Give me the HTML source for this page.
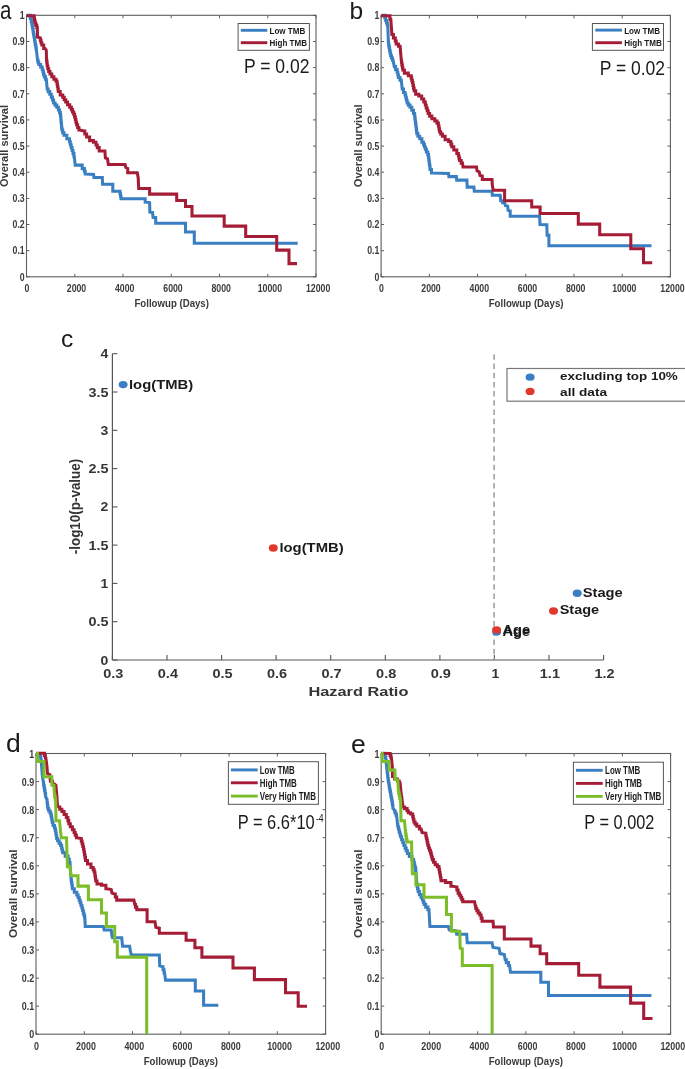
<!DOCTYPE html><html><head><meta charset="utf-8"><style>
html,body{margin:0;padding:0;background:#fff;}
svg{display:block;will-change:transform;}
text{font-family:"Liberation Sans",sans-serif;}
</style></head><body>
<svg width="685" height="1069" viewBox="0 0 685 1069">
<rect width="685" height="1069" fill="#fff"/>
<rect x="26.5" y="15.3" width="289.5" height="261.5" fill="none" stroke="#5e5e5e" stroke-width="1.1"/>
<line x1="26.5" y1="276.8" x2="26.5" y2="273.8" stroke="#5e5e5e" stroke-width="1"/>
<line x1="26.5" y1="15.3" x2="26.5" y2="18.3" stroke="#5e5e5e" stroke-width="1"/>
<text x="26.9" y="291.8" font-size="10.8" font-weight="bold" text-anchor="middle" fill="#3a3a3a" textLength="4.87" lengthAdjust="spacingAndGlyphs" >0</text>
<line x1="74.8" y1="276.8" x2="74.8" y2="273.8" stroke="#5e5e5e" stroke-width="1"/>
<line x1="74.8" y1="15.3" x2="74.8" y2="18.3" stroke="#5e5e5e" stroke-width="1"/>
<text x="76.5" y="291.8" font-size="10.8" font-weight="bold" text-anchor="middle" fill="#3a3a3a" textLength="19.46" lengthAdjust="spacingAndGlyphs" >2000</text>
<line x1="123.0" y1="276.8" x2="123.0" y2="273.8" stroke="#5e5e5e" stroke-width="1"/>
<line x1="123.0" y1="15.3" x2="123.0" y2="18.3" stroke="#5e5e5e" stroke-width="1"/>
<text x="124.7" y="291.8" font-size="10.8" font-weight="bold" text-anchor="middle" fill="#3a3a3a" textLength="19.46" lengthAdjust="spacingAndGlyphs" >4000</text>
<line x1="171.2" y1="276.8" x2="171.2" y2="273.8" stroke="#5e5e5e" stroke-width="1"/>
<line x1="171.2" y1="15.3" x2="171.2" y2="18.3" stroke="#5e5e5e" stroke-width="1"/>
<text x="173.0" y="291.8" font-size="10.8" font-weight="bold" text-anchor="middle" fill="#3a3a3a" textLength="19.46" lengthAdjust="spacingAndGlyphs" >6000</text>
<line x1="219.5" y1="276.8" x2="219.5" y2="273.8" stroke="#5e5e5e" stroke-width="1"/>
<line x1="219.5" y1="15.3" x2="219.5" y2="18.3" stroke="#5e5e5e" stroke-width="1"/>
<text x="221.2" y="291.8" font-size="10.8" font-weight="bold" text-anchor="middle" fill="#3a3a3a" textLength="19.46" lengthAdjust="spacingAndGlyphs" >8000</text>
<line x1="267.8" y1="276.8" x2="267.8" y2="273.8" stroke="#5e5e5e" stroke-width="1"/>
<line x1="267.8" y1="15.3" x2="267.8" y2="18.3" stroke="#5e5e5e" stroke-width="1"/>
<text x="269.9" y="291.8" font-size="10.8" font-weight="bold" text-anchor="middle" fill="#3a3a3a" textLength="24.33" lengthAdjust="spacingAndGlyphs" >10000</text>
<line x1="316.0" y1="276.8" x2="316.0" y2="273.8" stroke="#5e5e5e" stroke-width="1"/>
<line x1="316.0" y1="15.3" x2="316.0" y2="18.3" stroke="#5e5e5e" stroke-width="1"/>
<text x="318.1" y="291.8" font-size="10.8" font-weight="bold" text-anchor="middle" fill="#3a3a3a" textLength="24.33" lengthAdjust="spacingAndGlyphs" >12000</text>
<line x1="26.5" y1="276.8" x2="29.5" y2="276.8" stroke="#5e5e5e" stroke-width="1"/>
<line x1="316" y1="276.8" x2="313" y2="276.8" stroke="#5e5e5e" stroke-width="1"/>
<text x="24.7" y="280.5" font-size="10.8" font-weight="bold" text-anchor="end" fill="#3a3a3a" textLength="4.87" lengthAdjust="spacingAndGlyphs" >0</text>
<line x1="26.5" y1="250.7" x2="29.5" y2="250.7" stroke="#5e5e5e" stroke-width="1"/>
<line x1="316" y1="250.7" x2="313" y2="250.7" stroke="#5e5e5e" stroke-width="1"/>
<text x="24.7" y="254.3" font-size="10.8" font-weight="bold" text-anchor="end" fill="#3a3a3a" textLength="12.16" lengthAdjust="spacingAndGlyphs" >0.1</text>
<line x1="26.5" y1="224.5" x2="29.5" y2="224.5" stroke="#5e5e5e" stroke-width="1"/>
<line x1="316" y1="224.5" x2="313" y2="224.5" stroke="#5e5e5e" stroke-width="1"/>
<text x="24.7" y="228.2" font-size="10.8" font-weight="bold" text-anchor="end" fill="#3a3a3a" textLength="12.16" lengthAdjust="spacingAndGlyphs" >0.2</text>
<line x1="26.5" y1="198.4" x2="29.5" y2="198.4" stroke="#5e5e5e" stroke-width="1"/>
<line x1="316" y1="198.4" x2="313" y2="198.4" stroke="#5e5e5e" stroke-width="1"/>
<text x="24.7" y="202.1" font-size="10.8" font-weight="bold" text-anchor="end" fill="#3a3a3a" textLength="12.16" lengthAdjust="spacingAndGlyphs" >0.3</text>
<line x1="26.5" y1="172.2" x2="29.5" y2="172.2" stroke="#5e5e5e" stroke-width="1"/>
<line x1="316" y1="172.2" x2="313" y2="172.2" stroke="#5e5e5e" stroke-width="1"/>
<text x="24.7" y="175.9" font-size="10.8" font-weight="bold" text-anchor="end" fill="#3a3a3a" textLength="12.16" lengthAdjust="spacingAndGlyphs" >0.4</text>
<line x1="26.5" y1="146.1" x2="29.5" y2="146.1" stroke="#5e5e5e" stroke-width="1"/>
<line x1="316" y1="146.1" x2="313" y2="146.1" stroke="#5e5e5e" stroke-width="1"/>
<text x="24.7" y="149.8" font-size="10.8" font-weight="bold" text-anchor="end" fill="#3a3a3a" textLength="12.16" lengthAdjust="spacingAndGlyphs" >0.5</text>
<line x1="26.5" y1="119.9" x2="29.5" y2="119.9" stroke="#5e5e5e" stroke-width="1"/>
<line x1="316" y1="119.9" x2="313" y2="119.9" stroke="#5e5e5e" stroke-width="1"/>
<text x="24.7" y="123.6" font-size="10.8" font-weight="bold" text-anchor="end" fill="#3a3a3a" textLength="12.16" lengthAdjust="spacingAndGlyphs" >0.6</text>
<line x1="26.5" y1="93.8" x2="29.5" y2="93.8" stroke="#5e5e5e" stroke-width="1"/>
<line x1="316" y1="93.8" x2="313" y2="93.8" stroke="#5e5e5e" stroke-width="1"/>
<text x="24.7" y="97.5" font-size="10.8" font-weight="bold" text-anchor="end" fill="#3a3a3a" textLength="12.16" lengthAdjust="spacingAndGlyphs" >0.7</text>
<line x1="26.5" y1="67.6" x2="29.5" y2="67.6" stroke="#5e5e5e" stroke-width="1"/>
<line x1="316" y1="67.6" x2="313" y2="67.6" stroke="#5e5e5e" stroke-width="1"/>
<text x="24.7" y="71.3" font-size="10.8" font-weight="bold" text-anchor="end" fill="#3a3a3a" textLength="12.16" lengthAdjust="spacingAndGlyphs" >0.8</text>
<line x1="26.5" y1="41.5" x2="29.5" y2="41.5" stroke="#5e5e5e" stroke-width="1"/>
<line x1="316" y1="41.5" x2="313" y2="41.5" stroke="#5e5e5e" stroke-width="1"/>
<text x="24.7" y="45.2" font-size="10.8" font-weight="bold" text-anchor="end" fill="#3a3a3a" textLength="12.16" lengthAdjust="spacingAndGlyphs" >0.9</text>
<line x1="26.5" y1="15.3" x2="29.5" y2="15.3" stroke="#5e5e5e" stroke-width="1"/>
<line x1="316" y1="15.3" x2="313" y2="15.3" stroke="#5e5e5e" stroke-width="1"/>
<text x="24.7" y="19.0" font-size="10.8" font-weight="bold" text-anchor="end" fill="#3a3a3a" textLength="4.87" lengthAdjust="spacingAndGlyphs" >1</text>
<text x="171.7" y="306.8" font-size="11.6" font-weight="bold" text-anchor="middle" fill="#3a3a3a" textLength="74.5" lengthAdjust="spacingAndGlyphs" >Followup (Days)</text>
<text transform="translate(8.2,146) rotate(-90)" x="0" y="0" font-size="11.6" font-weight="bold" text-anchor="middle" fill="#3a3a3a" textLength="82" lengthAdjust="spacingAndGlyphs">Overall survival</text>
<polyline points="26.6,15.3 29.9,15.3 30.3,15.3 30.3,18.5 31.2,18.5 31.2,21.7 31.7,21.7 31.9,21.7 31.9,24.3 32.3,24.3 32.3,27.0 32.8,27.0 32.8,29.6 33.2,29.6 33.2,32.2 33.4,32.2 33.6,32.2 33.6,34.7 34.0,34.7 34.0,37.2 34.5,37.2 34.5,39.7 34.9,39.7 34.9,42.2 35.3,42.2 35.3,44.7 35.8,44.7 35.8,47.2 36.2,47.2 36.2,49.7 36.4,49.7 37.5,60.0 38.0,60.0 38.0,62.2 38.8,62.2 38.8,64.4 39.3,64.4 40.6,64.4 40.6,67.0 41.9,67.0 42.2,67.0 42.2,69.4 42.9,69.4 42.9,71.8 43.5,71.8 43.5,74.2 44.2,74.2 44.2,76.6 44.5,76.6 45.4,76.6 45.4,79.3 46.3,79.3 47.2,88.9 48.1,88.9 48.1,91.6 49.8,91.6 49.8,94.2 50.7,94.2 51.3,94.2 51.3,97.1 52.5,97.1 52.5,100.0 53.6,100.0 53.6,102.9 54.2,102.9 55.1,102.9 55.1,105.1 56.8,105.1 56.8,107.3 57.7,107.3 58.4,107.3 58.4,109.9 59.6,109.9 59.6,112.6 60.3,112.6 60.4,112.6 60.4,115.1 60.7,115.1 60.7,117.6 60.9,117.6 60.9,120.1 61.1,120.1 61.1,122.5 61.4,122.5 61.4,125.0 61.6,125.0 61.6,127.5 61.9,127.5 61.9,130.0 62.0,130.0 62.7,130.0 62.7,132.7 64.0,132.7 64.0,135.3 64.7,135.3 66.8,135.3 66.8,138.8 69.0,138.8 69.5,138.8 69.5,141.7 70.3,141.7 70.3,144.7 71.2,144.7 71.2,147.6 71.7,147.6 72.1,147.6 72.1,150.5 73.0,150.5 73.0,153.5 73.9,153.5 73.9,156.4 74.3,156.4 75.2,165.1 80.4,165.1 82.2,165.1 82.2,168.6 83.9,168.6 84.4,168.6 84.4,171.2 85.2,171.2 85.2,173.9 85.7,173.9 93.6,174.5 93.9,177.5 102.3,177.5 102.6,184.2 112.8,184.2 112.8,191.2 119.8,191.2 120.0,191.2 120.0,193.7 120.5,193.7 120.5,196.2 121.0,196.2 121.0,198.7 121.2,198.7 145.2,198.7 145.2,202.2 149.6,202.6 149.9,212.2 152.5,212.5 153.1,217.5 155.7,217.5 155.7,223.2 185.5,223.2 185.5,232.0 194.3,232.0 194.3,243.2 297.7,243.2" fill="none" stroke="#3a7fc1" stroke-width="3.05" stroke-linejoin="miter" stroke-linecap="butt"/>
<polyline points="26.6,15.8 33.8,15.8 34.0,15.8 34.0,18.1 34.5,18.1 34.5,20.5 35.0,20.5 35.0,22.8 35.2,22.8 35.7,22.8 35.7,25.1 36.8,25.1 36.8,27.5 37.3,27.5 37.5,36.9 39.9,38.0 40.3,38.0 40.3,40.3 41.0,40.3 41.0,42.7 41.8,42.7 41.8,45.0 42.2,45.0 43.7,45.0 43.7,48.5 45.1,48.5 46.3,50.3 46.5,60.0 46.8,60.0 46.8,62.9 47.2,62.9 47.2,65.9 47.8,65.9 47.8,68.8 48.0,68.8 48.7,68.8 48.7,71.4 50.0,71.4 50.0,74.0 50.7,74.0 51.8,74.0 51.8,76.7 53.9,76.7 53.9,79.3 55.0,79.3 55.9,79.3 55.9,81.0 56.8,81.0 57.0,81.0 57.0,83.6 57.4,83.6 57.4,86.2 57.9,86.2 57.9,88.9 58.3,88.9 58.3,91.5 58.5,91.5 60.2,91.5 60.2,95.0 62.0,95.0 62.7,95.0 62.7,97.3 64.2,97.3 64.2,99.7 65.7,99.7 65.7,102.0 66.4,102.0 67.5,102.0 67.5,104.7 69.7,104.7 69.7,107.3 70.8,107.3 71.4,107.3 71.4,109.6 72.5,109.6 72.5,112.0 73.7,112.0 73.7,114.3 74.3,114.3 74.6,114.3 74.6,116.9 75.3,116.9 75.3,119.5 75.9,119.5 75.9,122.2 76.6,122.2 76.6,124.8 76.9,124.8 77.6,124.8 77.6,127.4 78.9,127.4 78.9,130.0 79.6,130.0 84.0,131.0 84.8,131.0 84.8,134.0 86.6,134.0 86.6,137.0 87.4,137.0 89.6,137.0 89.6,140.6 91.8,140.6 93.5,140.6 93.5,142.3 95.3,142.3 96.0,142.3 96.0,144.9 97.3,144.9 97.3,147.6 98.0,147.6 99.2,147.6 99.2,150.9 100.5,150.9 104.9,150.9 105.4,157.9 107.5,158.8 108.4,164.4 125.0,164.4 125.9,167.5 127.7,168.4 127.7,172.8 137.3,172.8 138.2,178.0 138.7,188.5 149.6,188.5 149.6,194.1 176.7,194.1 176.7,200.5 185.5,200.5 185.5,206.4 192.0,206.4 192.0,216.0 224.2,216.0 224.2,226.1 245.7,226.1 245.7,236.4 276.7,236.4 276.7,250.1 289.0,250.1 289.0,263.6 297.0,263.6" fill="none" stroke="#a51c36" stroke-width="3.05" stroke-linejoin="miter" stroke-linecap="butt"/>
<rect x="238.1" y="23.5" width="71.29999999999998" height="26.799999999999997" fill="#fff" stroke="#555" stroke-width="1"/>
<line x1="240.8" y1="30.3" x2="267.3" y2="30.3" stroke="#3a7fc1" stroke-width="2.9"/>
<text x="269.5" y="34.0" font-size="9.3" font-weight="bold" text-anchor="start" fill="#1a1a1a" textLength="35.8" lengthAdjust="spacingAndGlyphs" >Low TMB</text>
<line x1="240.8" y1="42.7" x2="267.3" y2="42.7" stroke="#a51c36" stroke-width="2.9"/>
<text x="269.5" y="46.400000000000006" font-size="9.3" font-weight="bold" text-anchor="start" fill="#1a1a1a" textLength="37.5" lengthAdjust="spacingAndGlyphs" >High TMB</text>
<text x="244" y="72.7" font-size="20.6" fill="#1a1a1a" textLength="65.4" lengthAdjust="spacingAndGlyphs">P = 0.02</text>
<text x="0" y="18.8" font-size="25" fill="#1a1a1a" transform="scale(0.82,1)">a</text>
<rect x="381.1" y="15.4" width="289.29999999999995" height="261.40000000000003" fill="none" stroke="#5e5e5e" stroke-width="1.1"/>
<line x1="381.1" y1="276.8" x2="381.1" y2="273.8" stroke="#5e5e5e" stroke-width="1"/>
<line x1="381.1" y1="15.4" x2="381.1" y2="18.4" stroke="#5e5e5e" stroke-width="1"/>
<text x="381.5" y="291.8" font-size="10.8" font-weight="bold" text-anchor="middle" fill="#3a3a3a" textLength="4.87" lengthAdjust="spacingAndGlyphs" >0</text>
<line x1="429.3" y1="276.8" x2="429.3" y2="273.8" stroke="#5e5e5e" stroke-width="1"/>
<line x1="429.3" y1="15.4" x2="429.3" y2="18.4" stroke="#5e5e5e" stroke-width="1"/>
<text x="431.0" y="291.8" font-size="10.8" font-weight="bold" text-anchor="middle" fill="#3a3a3a" textLength="19.46" lengthAdjust="spacingAndGlyphs" >2000</text>
<line x1="477.5" y1="276.8" x2="477.5" y2="273.8" stroke="#5e5e5e" stroke-width="1"/>
<line x1="477.5" y1="15.4" x2="477.5" y2="18.4" stroke="#5e5e5e" stroke-width="1"/>
<text x="479.3" y="291.8" font-size="10.8" font-weight="bold" text-anchor="middle" fill="#3a3a3a" textLength="19.46" lengthAdjust="spacingAndGlyphs" >4000</text>
<line x1="525.8" y1="276.8" x2="525.8" y2="273.8" stroke="#5e5e5e" stroke-width="1"/>
<line x1="525.8" y1="15.4" x2="525.8" y2="18.4" stroke="#5e5e5e" stroke-width="1"/>
<text x="527.5" y="291.8" font-size="10.8" font-weight="bold" text-anchor="middle" fill="#3a3a3a" textLength="19.46" lengthAdjust="spacingAndGlyphs" >6000</text>
<line x1="574.0" y1="276.8" x2="574.0" y2="273.8" stroke="#5e5e5e" stroke-width="1"/>
<line x1="574.0" y1="15.4" x2="574.0" y2="18.4" stroke="#5e5e5e" stroke-width="1"/>
<text x="575.7" y="291.8" font-size="10.8" font-weight="bold" text-anchor="middle" fill="#3a3a3a" textLength="19.46" lengthAdjust="spacingAndGlyphs" >8000</text>
<line x1="622.2" y1="276.8" x2="622.2" y2="273.8" stroke="#5e5e5e" stroke-width="1"/>
<line x1="622.2" y1="15.4" x2="622.2" y2="18.4" stroke="#5e5e5e" stroke-width="1"/>
<text x="624.3" y="291.8" font-size="10.8" font-weight="bold" text-anchor="middle" fill="#3a3a3a" textLength="24.33" lengthAdjust="spacingAndGlyphs" >10000</text>
<line x1="670.4" y1="276.8" x2="670.4" y2="273.8" stroke="#5e5e5e" stroke-width="1"/>
<line x1="670.4" y1="15.4" x2="670.4" y2="18.4" stroke="#5e5e5e" stroke-width="1"/>
<text x="672.5" y="291.8" font-size="10.8" font-weight="bold" text-anchor="middle" fill="#3a3a3a" textLength="24.33" lengthAdjust="spacingAndGlyphs" >12000</text>
<line x1="381.1" y1="276.8" x2="384.1" y2="276.8" stroke="#5e5e5e" stroke-width="1"/>
<line x1="670.4" y1="276.8" x2="667.4" y2="276.8" stroke="#5e5e5e" stroke-width="1"/>
<text x="379.3" y="280.5" font-size="10.8" font-weight="bold" text-anchor="end" fill="#3a3a3a" textLength="4.87" lengthAdjust="spacingAndGlyphs" >0</text>
<line x1="381.1" y1="250.7" x2="384.1" y2="250.7" stroke="#5e5e5e" stroke-width="1"/>
<line x1="670.4" y1="250.7" x2="667.4" y2="250.7" stroke="#5e5e5e" stroke-width="1"/>
<text x="379.3" y="254.4" font-size="10.8" font-weight="bold" text-anchor="end" fill="#3a3a3a" textLength="12.16" lengthAdjust="spacingAndGlyphs" >0.1</text>
<line x1="381.1" y1="224.5" x2="384.1" y2="224.5" stroke="#5e5e5e" stroke-width="1"/>
<line x1="670.4" y1="224.5" x2="667.4" y2="224.5" stroke="#5e5e5e" stroke-width="1"/>
<text x="379.3" y="228.2" font-size="10.8" font-weight="bold" text-anchor="end" fill="#3a3a3a" textLength="12.16" lengthAdjust="spacingAndGlyphs" >0.2</text>
<line x1="381.1" y1="198.4" x2="384.1" y2="198.4" stroke="#5e5e5e" stroke-width="1"/>
<line x1="670.4" y1="198.4" x2="667.4" y2="198.4" stroke="#5e5e5e" stroke-width="1"/>
<text x="379.3" y="202.1" font-size="10.8" font-weight="bold" text-anchor="end" fill="#3a3a3a" textLength="12.16" lengthAdjust="spacingAndGlyphs" >0.3</text>
<line x1="381.1" y1="172.2" x2="384.1" y2="172.2" stroke="#5e5e5e" stroke-width="1"/>
<line x1="670.4" y1="172.2" x2="667.4" y2="172.2" stroke="#5e5e5e" stroke-width="1"/>
<text x="379.3" y="175.9" font-size="10.8" font-weight="bold" text-anchor="end" fill="#3a3a3a" textLength="12.16" lengthAdjust="spacingAndGlyphs" >0.4</text>
<line x1="381.1" y1="146.1" x2="384.1" y2="146.1" stroke="#5e5e5e" stroke-width="1"/>
<line x1="670.4" y1="146.1" x2="667.4" y2="146.1" stroke="#5e5e5e" stroke-width="1"/>
<text x="379.3" y="149.8" font-size="10.8" font-weight="bold" text-anchor="end" fill="#3a3a3a" textLength="12.16" lengthAdjust="spacingAndGlyphs" >0.5</text>
<line x1="381.1" y1="120.0" x2="384.1" y2="120.0" stroke="#5e5e5e" stroke-width="1"/>
<line x1="670.4" y1="120.0" x2="667.4" y2="120.0" stroke="#5e5e5e" stroke-width="1"/>
<text x="379.3" y="123.7" font-size="10.8" font-weight="bold" text-anchor="end" fill="#3a3a3a" textLength="12.16" lengthAdjust="spacingAndGlyphs" >0.6</text>
<line x1="381.1" y1="93.8" x2="384.1" y2="93.8" stroke="#5e5e5e" stroke-width="1"/>
<line x1="670.4" y1="93.8" x2="667.4" y2="93.8" stroke="#5e5e5e" stroke-width="1"/>
<text x="379.3" y="97.5" font-size="10.8" font-weight="bold" text-anchor="end" fill="#3a3a3a" textLength="12.16" lengthAdjust="spacingAndGlyphs" >0.7</text>
<line x1="381.1" y1="67.7" x2="384.1" y2="67.7" stroke="#5e5e5e" stroke-width="1"/>
<line x1="670.4" y1="67.7" x2="667.4" y2="67.7" stroke="#5e5e5e" stroke-width="1"/>
<text x="379.3" y="71.4" font-size="10.8" font-weight="bold" text-anchor="end" fill="#3a3a3a" textLength="12.16" lengthAdjust="spacingAndGlyphs" >0.8</text>
<line x1="381.1" y1="41.5" x2="384.1" y2="41.5" stroke="#5e5e5e" stroke-width="1"/>
<line x1="670.4" y1="41.5" x2="667.4" y2="41.5" stroke="#5e5e5e" stroke-width="1"/>
<text x="379.3" y="45.2" font-size="10.8" font-weight="bold" text-anchor="end" fill="#3a3a3a" textLength="12.16" lengthAdjust="spacingAndGlyphs" >0.9</text>
<line x1="381.1" y1="15.4" x2="384.1" y2="15.4" stroke="#5e5e5e" stroke-width="1"/>
<line x1="670.4" y1="15.4" x2="667.4" y2="15.4" stroke="#5e5e5e" stroke-width="1"/>
<text x="379.3" y="19.1" font-size="10.8" font-weight="bold" text-anchor="end" fill="#3a3a3a" textLength="4.87" lengthAdjust="spacingAndGlyphs" >1</text>
<text x="526.1" y="306.8" font-size="11.6" font-weight="bold" text-anchor="middle" fill="#3a3a3a" textLength="74.8" lengthAdjust="spacingAndGlyphs" >Followup (Days)</text>
<text transform="translate(362.2,145.8) rotate(-90)" x="0" y="0" font-size="11.6" font-weight="bold" text-anchor="middle" fill="#3a3a3a" textLength="82.8" lengthAdjust="spacingAndGlyphs">Overall survival</text>
<polyline points="381.2,15.3 384.3,15.3 384.8,15.3 384.8,17.9 385.7,17.9 385.7,20.5 386.1,20.5 386.5,20.5 386.5,22.9 387.4,22.9 387.4,25.2 387.8,25.2 388.4,42.7 388.6,42.7 388.6,45.3 389.1,45.3 389.1,47.8 389.6,47.8 389.6,50.4 390.1,50.4 390.1,52.9 390.6,52.9 390.6,55.5 390.8,55.5 391.4,55.5 391.4,57.9 392.5,57.9 392.5,60.2 393.1,60.2 394.3,66.6 395.6,66.6 395.6,69.6 396.9,69.6 397.2,69.6 397.2,72.2 397.8,72.2 397.8,74.9 398.4,74.9 398.4,77.5 398.7,77.5 400.0,77.5 400.0,80.1 401.3,80.1 402.2,88.9 403.5,88.9 403.5,92.4 404.8,92.4 405.1,92.4 405.1,95.0 405.8,95.0 405.8,97.7 406.4,97.7 406.4,100.3 407.1,100.3 407.1,102.9 407.4,102.9 408.3,102.9 408.3,105.1 410.0,105.1 410.0,107.3 410.9,107.3 411.8,107.3 411.8,110.3 413.5,110.3 413.5,113.4 414.4,113.4 414.6,113.4 414.6,115.9 414.9,115.9 414.9,118.5 415.2,118.5 415.2,121.0 415.5,121.0 415.5,123.5 415.9,123.5 415.9,126.0 416.2,126.0 416.2,128.6 416.5,128.6 416.5,131.1 416.8,131.1 416.8,133.6 417.0,133.6 417.9,133.6 417.9,136.2 419.7,136.2 419.7,138.8 420.6,138.8 421.9,138.8 421.9,142.3 423.2,142.3 423.6,142.3 423.6,144.6 424.5,144.6 424.5,147.0 425.4,147.0 425.4,149.3 425.8,149.3 426.4,149.3 426.4,151.9 427.8,151.9 427.8,154.6 428.4,154.6 428.5,154.6 428.5,157.1 428.8,157.1 428.8,159.6 429.1,159.6 429.1,162.1 429.4,162.1 429.4,164.5 429.8,164.5 429.8,167.0 430.1,167.0 430.1,169.5 430.2,169.5 431.5,169.5 431.5,173.0 432.8,173.0 448.6,173.5 448.9,176.6 456.4,176.6 456.7,180.1 466.9,180.1 467.2,187.1 473.9,187.1 474.3,191.2 492.0,191.2 492.3,195.2 500.2,195.2 500.7,200.8 502.6,200.8 502.6,202.6 504.6,202.6 505.4,205.7 507.7,206.1 508.1,210.4 510.2,211.0 510.2,216.2 539.6,216.2 540.0,224.5 546.8,224.7 547.1,235.2 548.9,235.2 548.9,245.7 651.5,245.7" fill="none" stroke="#3a7fc1" stroke-width="3.05" stroke-linejoin="miter" stroke-linecap="butt"/>
<polyline points="381.2,15.8 389.0,15.8 389.9,15.8 389.9,19.3 390.8,19.3 391.9,34.5 393.4,34.5 393.4,38.0 394.9,38.0 395.3,38.0 395.3,41.0 396.2,41.0 396.2,43.9 396.6,43.9 398.4,43.9 398.4,46.2 400.1,46.2 401.3,60.2 401.5,60.2 401.5,62.7 401.9,62.7 401.9,65.1 402.4,65.1 402.4,67.5 402.8,67.5 402.8,70.0 403.0,70.0 404.4,70.0 404.4,73.1 405.7,73.1 408.3,73.1 408.3,75.8 410.9,75.8 411.2,75.8 411.2,78.1 411.8,78.1 411.8,80.5 412.4,80.5 412.4,82.8 412.7,82.8 413.0,82.8 413.0,85.4 413.5,85.4 413.5,88.1 414.1,88.1 414.1,90.7 414.4,90.7 415.7,90.7 415.7,94.2 417.0,94.2 418.8,94.2 418.8,95.9 420.6,95.9 421.7,95.9 421.7,99.0 423.8,99.0 423.8,102.0 424.9,102.0 425.3,102.0 425.3,104.9 426.2,104.9 426.2,107.9 427.2,107.9 427.2,110.8 427.6,110.8 428.2,110.8 428.2,113.4 429.6,113.4 429.6,116.1 430.2,116.1 431.9,116.1 431.9,118.7 433.7,118.7 434.8,118.7 434.8,120.9 437.0,120.9 437.0,123.1 438.1,123.1 438.4,123.1 438.4,126.0 439.0,126.0 439.0,128.9 439.5,128.9 439.5,131.8 439.8,131.8 440.7,131.8 440.7,134.0 442.4,134.0 442.4,136.2 443.3,136.2 445.1,136.2 445.1,139.7 446.8,139.7 448.6,139.7 448.6,141.5 450.3,141.5 450.8,141.5 450.8,144.1 451.7,144.1 451.7,146.7 452.1,146.7 453.8,146.7 453.8,150.0 455.5,150.0 456.8,150.0 456.8,153.5 458.1,153.5 458.4,153.5 458.4,155.8 459.0,155.8 459.0,158.2 459.6,158.2 459.6,160.5 459.9,160.5 461.2,160.5 461.2,163.1 462.5,163.1 463.0,167.0 476.5,167.0 477.1,171.0 479.2,171.9 480.0,175.4 482.3,175.9 482.3,179.4 492.0,179.4 492.3,185.0 493.2,190.3 504.6,190.3 504.6,200.8 531.7,200.8 531.7,206.9 540.1,206.9 540.1,213.4 578.3,213.4 578.3,224.1 599.7,224.1 599.7,234.7 630.8,234.7 630.8,248.7 643.5,248.7 643.5,262.7 652.2,262.7" fill="none" stroke="#a51c36" stroke-width="3.05" stroke-linejoin="miter" stroke-linecap="butt"/>
<rect x="592.4" y="23.5" width="71.10000000000002" height="26.799999999999997" fill="#fff" stroke="#555" stroke-width="1"/>
<line x1="595.3" y1="30.1" x2="621.9" y2="30.1" stroke="#3a7fc1" stroke-width="2.9"/>
<text x="624.2" y="33.800000000000004" font-size="9.3" font-weight="bold" text-anchor="start" fill="#1a1a1a" textLength="35.8" lengthAdjust="spacingAndGlyphs" >Low TMB</text>
<line x1="595.3" y1="42.7" x2="621.9" y2="42.7" stroke="#a51c36" stroke-width="2.9"/>
<text x="624.2" y="46.400000000000006" font-size="9.3" font-weight="bold" text-anchor="start" fill="#1a1a1a" textLength="37.6" lengthAdjust="spacingAndGlyphs" >High TMB</text>
<text x="599.7" y="74.9" font-size="20.6" fill="#1a1a1a" textLength="65.4" lengthAdjust="spacingAndGlyphs">P = 0.02</text>
<text x="349.5" y="18.8" font-size="24.5" fill="#1a1a1a">b</text>
<rect x="36" y="753.5" width="289.6" height="280.70000000000005" fill="none" stroke="#5e5e5e" stroke-width="1.1"/>
<line x1="36.0" y1="1034.2" x2="36.0" y2="1031.2" stroke="#5e5e5e" stroke-width="1"/>
<line x1="36.0" y1="753.5" x2="36.0" y2="756.5" stroke="#5e5e5e" stroke-width="1"/>
<text x="36.4" y="1049.7" font-size="11.5" font-weight="bold" text-anchor="middle" fill="#3a3a3a" textLength="4.95" lengthAdjust="spacingAndGlyphs" >0</text>
<line x1="84.3" y1="1034.2" x2="84.3" y2="1031.2" stroke="#5e5e5e" stroke-width="1"/>
<line x1="84.3" y1="753.5" x2="84.3" y2="756.5" stroke="#5e5e5e" stroke-width="1"/>
<text x="86.0" y="1049.7" font-size="11.5" font-weight="bold" text-anchor="middle" fill="#3a3a3a" textLength="19.79" lengthAdjust="spacingAndGlyphs" >2000</text>
<line x1="132.5" y1="1034.2" x2="132.5" y2="1031.2" stroke="#5e5e5e" stroke-width="1"/>
<line x1="132.5" y1="753.5" x2="132.5" y2="756.5" stroke="#5e5e5e" stroke-width="1"/>
<text x="134.3" y="1049.7" font-size="11.5" font-weight="bold" text-anchor="middle" fill="#3a3a3a" textLength="19.79" lengthAdjust="spacingAndGlyphs" >4000</text>
<line x1="180.8" y1="1034.2" x2="180.8" y2="1031.2" stroke="#5e5e5e" stroke-width="1"/>
<line x1="180.8" y1="753.5" x2="180.8" y2="756.5" stroke="#5e5e5e" stroke-width="1"/>
<text x="182.5" y="1049.7" font-size="11.5" font-weight="bold" text-anchor="middle" fill="#3a3a3a" textLength="19.79" lengthAdjust="spacingAndGlyphs" >6000</text>
<line x1="229.1" y1="1034.2" x2="229.1" y2="1031.2" stroke="#5e5e5e" stroke-width="1"/>
<line x1="229.1" y1="753.5" x2="229.1" y2="756.5" stroke="#5e5e5e" stroke-width="1"/>
<text x="230.8" y="1049.7" font-size="11.5" font-weight="bold" text-anchor="middle" fill="#3a3a3a" textLength="19.79" lengthAdjust="spacingAndGlyphs" >8000</text>
<line x1="277.3" y1="1034.2" x2="277.3" y2="1031.2" stroke="#5e5e5e" stroke-width="1"/>
<line x1="277.3" y1="753.5" x2="277.3" y2="756.5" stroke="#5e5e5e" stroke-width="1"/>
<text x="279.5" y="1049.7" font-size="11.5" font-weight="bold" text-anchor="middle" fill="#3a3a3a" textLength="24.74" lengthAdjust="spacingAndGlyphs" >10000</text>
<line x1="325.6" y1="1034.2" x2="325.6" y2="1031.2" stroke="#5e5e5e" stroke-width="1"/>
<line x1="325.6" y1="753.5" x2="325.6" y2="756.5" stroke="#5e5e5e" stroke-width="1"/>
<text x="327.8" y="1049.7" font-size="11.5" font-weight="bold" text-anchor="middle" fill="#3a3a3a" textLength="24.74" lengthAdjust="spacingAndGlyphs" >12000</text>
<line x1="36" y1="1034.2" x2="39" y2="1034.2" stroke="#5e5e5e" stroke-width="1"/>
<line x1="325.6" y1="1034.2" x2="322.6" y2="1034.2" stroke="#5e5e5e" stroke-width="1"/>
<text x="34.2" y="1038.3" font-size="11.5" font-weight="bold" text-anchor="end" fill="#3a3a3a" textLength="4.95" lengthAdjust="spacingAndGlyphs" >0</text>
<line x1="36" y1="1006.1" x2="39" y2="1006.1" stroke="#5e5e5e" stroke-width="1"/>
<line x1="325.6" y1="1006.1" x2="322.6" y2="1006.1" stroke="#5e5e5e" stroke-width="1"/>
<text x="34.2" y="1010.2" font-size="11.5" font-weight="bold" text-anchor="end" fill="#3a3a3a" textLength="12.37" lengthAdjust="spacingAndGlyphs" >0.1</text>
<line x1="36" y1="978.1" x2="39" y2="978.1" stroke="#5e5e5e" stroke-width="1"/>
<line x1="325.6" y1="978.1" x2="322.6" y2="978.1" stroke="#5e5e5e" stroke-width="1"/>
<text x="34.2" y="982.2" font-size="11.5" font-weight="bold" text-anchor="end" fill="#3a3a3a" textLength="12.37" lengthAdjust="spacingAndGlyphs" >0.2</text>
<line x1="36" y1="950.0" x2="39" y2="950.0" stroke="#5e5e5e" stroke-width="1"/>
<line x1="325.6" y1="950.0" x2="322.6" y2="950.0" stroke="#5e5e5e" stroke-width="1"/>
<text x="34.2" y="954.1" font-size="11.5" font-weight="bold" text-anchor="end" fill="#3a3a3a" textLength="12.37" lengthAdjust="spacingAndGlyphs" >0.3</text>
<line x1="36" y1="921.9" x2="39" y2="921.9" stroke="#5e5e5e" stroke-width="1"/>
<line x1="325.6" y1="921.9" x2="322.6" y2="921.9" stroke="#5e5e5e" stroke-width="1"/>
<text x="34.2" y="926.0" font-size="11.5" font-weight="bold" text-anchor="end" fill="#3a3a3a" textLength="12.37" lengthAdjust="spacingAndGlyphs" >0.4</text>
<line x1="36" y1="893.9" x2="39" y2="893.9" stroke="#5e5e5e" stroke-width="1"/>
<line x1="325.6" y1="893.9" x2="322.6" y2="893.9" stroke="#5e5e5e" stroke-width="1"/>
<text x="34.2" y="898.0" font-size="11.5" font-weight="bold" text-anchor="end" fill="#3a3a3a" textLength="12.37" lengthAdjust="spacingAndGlyphs" >0.5</text>
<line x1="36" y1="865.8" x2="39" y2="865.8" stroke="#5e5e5e" stroke-width="1"/>
<line x1="325.6" y1="865.8" x2="322.6" y2="865.8" stroke="#5e5e5e" stroke-width="1"/>
<text x="34.2" y="869.9" font-size="11.5" font-weight="bold" text-anchor="end" fill="#3a3a3a" textLength="12.37" lengthAdjust="spacingAndGlyphs" >0.6</text>
<line x1="36" y1="837.7" x2="39" y2="837.7" stroke="#5e5e5e" stroke-width="1"/>
<line x1="325.6" y1="837.7" x2="322.6" y2="837.7" stroke="#5e5e5e" stroke-width="1"/>
<text x="34.2" y="841.8" font-size="11.5" font-weight="bold" text-anchor="end" fill="#3a3a3a" textLength="12.37" lengthAdjust="spacingAndGlyphs" >0.7</text>
<line x1="36" y1="809.6" x2="39" y2="809.6" stroke="#5e5e5e" stroke-width="1"/>
<line x1="325.6" y1="809.6" x2="322.6" y2="809.6" stroke="#5e5e5e" stroke-width="1"/>
<text x="34.2" y="813.7" font-size="11.5" font-weight="bold" text-anchor="end" fill="#3a3a3a" textLength="12.37" lengthAdjust="spacingAndGlyphs" >0.8</text>
<line x1="36" y1="781.6" x2="39" y2="781.6" stroke="#5e5e5e" stroke-width="1"/>
<line x1="325.6" y1="781.6" x2="322.6" y2="781.6" stroke="#5e5e5e" stroke-width="1"/>
<text x="34.2" y="785.7" font-size="11.5" font-weight="bold" text-anchor="end" fill="#3a3a3a" textLength="12.37" lengthAdjust="spacingAndGlyphs" >0.9</text>
<line x1="36" y1="753.5" x2="39" y2="753.5" stroke="#5e5e5e" stroke-width="1"/>
<line x1="325.6" y1="753.5" x2="322.6" y2="753.5" stroke="#5e5e5e" stroke-width="1"/>
<text x="34.2" y="757.6" font-size="11.5" font-weight="bold" text-anchor="end" fill="#3a3a3a" textLength="4.95" lengthAdjust="spacingAndGlyphs" >1</text>
<text x="180.9" y="1065" font-size="11.2" font-weight="bold" text-anchor="middle" fill="#3a3a3a" textLength="74.4" lengthAdjust="spacingAndGlyphs" >Followup (Days)</text>
<text transform="translate(17.2,893.8) rotate(-90)" x="0" y="0" font-size="11.2" font-weight="bold" text-anchor="middle" fill="#3a3a3a" textLength="88.5" lengthAdjust="spacingAndGlyphs">Overall survival</text>
<polyline points="36.0,753.5 39.9,754.3 40.2,754.3 40.2,756.6 40.8,756.6 40.8,759.0 41.1,759.0 42.3,775.4 43.4,782.4 43.6,782.4 43.6,785.2 44.1,785.2 44.1,788.0 44.6,788.0 44.6,790.8 45.1,790.8 45.1,793.6 45.6,793.6 45.6,796.4 45.8,796.4 46.9,800.0 47.1,800.0 47.1,802.9 47.5,802.9 47.5,805.9 47.9,805.9 47.9,808.8 48.1,808.8 48.8,808.8 48.8,811.0 50.1,811.0 50.1,813.1 50.8,813.1 51.0,813.1 51.0,815.5 51.4,815.5 51.4,818.0 51.9,818.0 51.9,820.4 52.3,820.4 52.3,822.8 52.5,822.8 53.1,822.8 53.1,825.4 54.5,825.4 54.5,828.0 55.1,828.0 55.3,828.0 55.3,830.6 55.8,830.6 55.8,833.2 56.2,833.2 56.2,835.9 56.7,835.9 56.7,838.5 56.9,838.5 57.6,838.5 57.6,840.8 59.1,840.8 59.1,843.2 60.6,843.2 60.6,845.5 61.3,845.5 61.6,845.5 61.6,847.9 62.1,847.9 62.1,850.2 62.7,850.2 62.7,852.6 63.0,852.6 65.2,852.6 65.2,856.1 67.4,856.1 68.1,856.1 68.1,859.2 69.3,859.2 69.3,862.2 70.0,862.2 70.9,877.1 71.1,877.1 71.1,880.0 71.5,880.0 71.5,883.0 72.0,883.0 72.0,885.9 72.4,885.9 72.4,888.8 72.6,888.8 74.3,888.8 74.3,892.3 76.1,892.3 76.8,892.3 76.8,894.9 78.1,894.9 78.1,897.5 78.8,897.5 79.2,897.5 79.2,900.1 80.1,900.1 80.1,902.8 81.0,902.8 81.0,905.4 81.9,905.4 81.9,908.0 82.3,908.0 82.6,908.0 82.6,910.4 83.3,910.4 83.3,912.9 83.9,912.9 83.9,915.3 84.6,915.3 84.6,917.7 84.9,917.7 85.2,926.4 103.3,926.4 104.2,929.9 111.2,929.9 112.0,936.1 112.7,936.1 112.7,937.8 113.4,937.8 121.7,937.8 122.6,946.2 129.6,946.2 130.4,951.0 131.3,955.0 159.3,955.0 159.7,965.8 162.5,966.7 163.0,966.7 163.0,969.8 164.1,969.8 164.1,972.9 164.6,972.9 165.5,980.1 195.3,980.1 195.3,991.0 203.6,991.0 203.6,1005.2 218.3,1005.2" fill="none" stroke="#3a7fc1" stroke-width="3.05" stroke-linejoin="miter" stroke-linecap="butt"/>
<polyline points="36.0,753.2 44.0,753.2 44.5,753.2 44.5,755.5 45.3,755.5 45.3,757.8 45.8,757.8 46.9,766.0 47.5,773.6 49.9,774.8 50.4,781.2 52.5,781.2 52.5,784.1 54.5,784.1 55.9,785.3 56.9,796.4 57.5,806.0 58.7,807.0 59.8,807.0 59.8,809.2 61.9,809.2 61.9,811.4 63.0,811.4 64.1,811.4 64.1,814.5 66.3,814.5 66.3,817.5 67.4,817.5 67.9,817.5 67.9,820.6 68.8,820.6 68.8,823.7 69.2,823.7 70.3,823.7 70.3,826.8 72.4,826.8 72.4,829.8 73.5,829.8 74.1,829.8 74.1,832.4 75.2,832.4 75.2,835.1 76.4,835.1 76.4,837.7 77.0,837.7 80.9,838.5 81.3,838.5 81.3,841.1 82.1,841.1 82.1,843.8 82.8,843.8 82.8,846.4 83.2,846.4 83.5,846.4 83.5,849.2 84.0,849.2 84.0,852.0 84.5,852.0 84.5,854.8 85.0,854.8 85.0,857.6 85.5,857.6 85.5,860.4 85.8,860.4 87.5,860.4 87.5,863.9 89.3,863.9 91.0,863.9 91.0,867.4 92.8,867.4 93.2,867.4 93.2,869.6 94.1,869.6 94.1,871.8 94.6,871.8 94.8,871.8 94.8,874.1 95.1,874.1 95.1,876.4 95.5,876.4 95.5,878.7 95.8,878.7 95.8,881.0 96.0,881.0 97.0,881.0 97.0,884.0 98.0,884.0 101.5,884.0 101.5,885.3 105.0,885.3 105.9,885.3 105.9,888.8 106.8,888.8 111.2,889.6 112.0,893.1 114.7,894.0 115.3,894.0 115.3,897.0 116.7,897.0 116.7,900.1 117.3,900.1 133.9,900.1 134.8,904.5 135.5,904.5 135.5,907.1 136.8,907.1 136.8,909.8 137.4,909.8 147.1,909.8 147.1,921.7 155.0,921.7 155.8,927.3 159.3,928.2 159.3,933.2 186.1,933.2 186.1,940.3 194.9,940.3 194.9,947.7 201.9,947.7 201.9,957.1 233.0,957.1 233.0,968.0 254.4,968.0 254.4,979.6 285.5,979.6 285.5,992.8 298.2,992.8 298.2,1006.3 307.0,1006.3" fill="none" stroke="#a51c36" stroke-width="3.05" stroke-linejoin="miter" stroke-linecap="butt"/>
<polyline points="36.0,753.5 37.5,753.5 37.5,761.4 44.0,761.4 44.0,776.8 51.8,776.8 51.9,785.3 53.9,785.3 54.5,794.6 54.8,794.6 54.8,797.3 55.4,797.3 55.4,800.0 55.7,800.0 56.0,820.7 59.5,820.7 60.4,829.8 61.3,837.7 66.5,837.7 67.4,866.6 70.0,866.6 70.9,875.7 78.0,875.7 78.0,886.1 88.4,886.1 88.4,899.7 101.5,899.7 101.5,913.0 106.4,913.0 106.4,926.4 114.7,926.4 114.7,941.7 117.3,941.7 117.3,957.1 146.7,957.1 146.7,1034.0" fill="none" stroke="#7cbd2a" stroke-width="3.05" stroke-linejoin="miter" stroke-linecap="butt"/>
<rect x="228.4" y="761.7" width="89.99999999999997" height="42.59999999999991" fill="#fff" stroke="#555" stroke-width="1"/>
<line x1="230.9" y1="769.9" x2="257.7" y2="769.9" stroke="#3a7fc1" stroke-width="2.9"/>
<text x="259.8" y="773.6" font-size="10" font-weight="bold" text-anchor="start" fill="#1a1a1a" textLength="34.9" lengthAdjust="spacingAndGlyphs" >Low TMB</text>
<line x1="230.9" y1="782.8" x2="257.7" y2="782.8" stroke="#a51c36" stroke-width="2.9"/>
<text x="259.8" y="786.5" font-size="10" font-weight="bold" text-anchor="start" fill="#1a1a1a" textLength="37" lengthAdjust="spacingAndGlyphs" >High TMB</text>
<line x1="230.9" y1="796.1" x2="257.7" y2="796.1" stroke="#7cbd2a" stroke-width="2.9"/>
<text x="259.8" y="799.8000000000001" font-size="10" font-weight="bold" text-anchor="start" fill="#1a1a1a" textLength="56.2" lengthAdjust="spacingAndGlyphs" >Very High TMB</text>
<text x="237.7" y="829.4" font-size="20.6" fill="#1a1a1a" textLength="77" lengthAdjust="spacingAndGlyphs">P = 6.6*10</text><text x="315.9" y="822.4" font-size="10" fill="#1a1a1a" textLength="7.7" lengthAdjust="spacingAndGlyphs">-4</text>
<text x="6" y="752.2" font-size="26.5" fill="#1a1a1a">d</text>
<rect x="381.2" y="753.5" width="289.40000000000003" height="280.70000000000005" fill="none" stroke="#5e5e5e" stroke-width="1.1"/>
<line x1="381.2" y1="1034.2" x2="381.2" y2="1031.2" stroke="#5e5e5e" stroke-width="1"/>
<line x1="381.2" y1="753.5" x2="381.2" y2="756.5" stroke="#5e5e5e" stroke-width="1"/>
<text x="381.6" y="1049.7" font-size="11.5" font-weight="bold" text-anchor="middle" fill="#3a3a3a" textLength="4.95" lengthAdjust="spacingAndGlyphs" >0</text>
<line x1="429.4" y1="1034.2" x2="429.4" y2="1031.2" stroke="#5e5e5e" stroke-width="1"/>
<line x1="429.4" y1="753.5" x2="429.4" y2="756.5" stroke="#5e5e5e" stroke-width="1"/>
<text x="431.2" y="1049.7" font-size="11.5" font-weight="bold" text-anchor="middle" fill="#3a3a3a" textLength="19.79" lengthAdjust="spacingAndGlyphs" >2000</text>
<line x1="477.7" y1="1034.2" x2="477.7" y2="1031.2" stroke="#5e5e5e" stroke-width="1"/>
<line x1="477.7" y1="753.5" x2="477.7" y2="756.5" stroke="#5e5e5e" stroke-width="1"/>
<text x="479.4" y="1049.7" font-size="11.5" font-weight="bold" text-anchor="middle" fill="#3a3a3a" textLength="19.79" lengthAdjust="spacingAndGlyphs" >4000</text>
<line x1="525.9" y1="1034.2" x2="525.9" y2="1031.2" stroke="#5e5e5e" stroke-width="1"/>
<line x1="525.9" y1="753.5" x2="525.9" y2="756.5" stroke="#5e5e5e" stroke-width="1"/>
<text x="527.6" y="1049.7" font-size="11.5" font-weight="bold" text-anchor="middle" fill="#3a3a3a" textLength="19.79" lengthAdjust="spacingAndGlyphs" >6000</text>
<line x1="574.1" y1="1034.2" x2="574.1" y2="1031.2" stroke="#5e5e5e" stroke-width="1"/>
<line x1="574.1" y1="753.5" x2="574.1" y2="756.5" stroke="#5e5e5e" stroke-width="1"/>
<text x="575.9" y="1049.7" font-size="11.5" font-weight="bold" text-anchor="middle" fill="#3a3a3a" textLength="19.79" lengthAdjust="spacingAndGlyphs" >8000</text>
<line x1="622.4" y1="1034.2" x2="622.4" y2="1031.2" stroke="#5e5e5e" stroke-width="1"/>
<line x1="622.4" y1="753.5" x2="622.4" y2="756.5" stroke="#5e5e5e" stroke-width="1"/>
<text x="624.5" y="1049.7" font-size="11.5" font-weight="bold" text-anchor="middle" fill="#3a3a3a" textLength="24.74" lengthAdjust="spacingAndGlyphs" >10000</text>
<line x1="670.6" y1="1034.2" x2="670.6" y2="1031.2" stroke="#5e5e5e" stroke-width="1"/>
<line x1="670.6" y1="753.5" x2="670.6" y2="756.5" stroke="#5e5e5e" stroke-width="1"/>
<text x="672.8" y="1049.7" font-size="11.5" font-weight="bold" text-anchor="middle" fill="#3a3a3a" textLength="24.74" lengthAdjust="spacingAndGlyphs" >12000</text>
<line x1="381.2" y1="1034.2" x2="384.2" y2="1034.2" stroke="#5e5e5e" stroke-width="1"/>
<line x1="670.6" y1="1034.2" x2="667.6" y2="1034.2" stroke="#5e5e5e" stroke-width="1"/>
<text x="379.4" y="1038.3" font-size="11.5" font-weight="bold" text-anchor="end" fill="#3a3a3a" textLength="4.95" lengthAdjust="spacingAndGlyphs" >0</text>
<line x1="381.2" y1="1006.1" x2="384.2" y2="1006.1" stroke="#5e5e5e" stroke-width="1"/>
<line x1="670.6" y1="1006.1" x2="667.6" y2="1006.1" stroke="#5e5e5e" stroke-width="1"/>
<text x="379.4" y="1010.2" font-size="11.5" font-weight="bold" text-anchor="end" fill="#3a3a3a" textLength="12.37" lengthAdjust="spacingAndGlyphs" >0.1</text>
<line x1="381.2" y1="978.1" x2="384.2" y2="978.1" stroke="#5e5e5e" stroke-width="1"/>
<line x1="670.6" y1="978.1" x2="667.6" y2="978.1" stroke="#5e5e5e" stroke-width="1"/>
<text x="379.4" y="982.2" font-size="11.5" font-weight="bold" text-anchor="end" fill="#3a3a3a" textLength="12.37" lengthAdjust="spacingAndGlyphs" >0.2</text>
<line x1="381.2" y1="950.0" x2="384.2" y2="950.0" stroke="#5e5e5e" stroke-width="1"/>
<line x1="670.6" y1="950.0" x2="667.6" y2="950.0" stroke="#5e5e5e" stroke-width="1"/>
<text x="379.4" y="954.1" font-size="11.5" font-weight="bold" text-anchor="end" fill="#3a3a3a" textLength="12.37" lengthAdjust="spacingAndGlyphs" >0.3</text>
<line x1="381.2" y1="921.9" x2="384.2" y2="921.9" stroke="#5e5e5e" stroke-width="1"/>
<line x1="670.6" y1="921.9" x2="667.6" y2="921.9" stroke="#5e5e5e" stroke-width="1"/>
<text x="379.4" y="926.0" font-size="11.5" font-weight="bold" text-anchor="end" fill="#3a3a3a" textLength="12.37" lengthAdjust="spacingAndGlyphs" >0.4</text>
<line x1="381.2" y1="893.9" x2="384.2" y2="893.9" stroke="#5e5e5e" stroke-width="1"/>
<line x1="670.6" y1="893.9" x2="667.6" y2="893.9" stroke="#5e5e5e" stroke-width="1"/>
<text x="379.4" y="898.0" font-size="11.5" font-weight="bold" text-anchor="end" fill="#3a3a3a" textLength="12.37" lengthAdjust="spacingAndGlyphs" >0.5</text>
<line x1="381.2" y1="865.8" x2="384.2" y2="865.8" stroke="#5e5e5e" stroke-width="1"/>
<line x1="670.6" y1="865.8" x2="667.6" y2="865.8" stroke="#5e5e5e" stroke-width="1"/>
<text x="379.4" y="869.9" font-size="11.5" font-weight="bold" text-anchor="end" fill="#3a3a3a" textLength="12.37" lengthAdjust="spacingAndGlyphs" >0.6</text>
<line x1="381.2" y1="837.7" x2="384.2" y2="837.7" stroke="#5e5e5e" stroke-width="1"/>
<line x1="670.6" y1="837.7" x2="667.6" y2="837.7" stroke="#5e5e5e" stroke-width="1"/>
<text x="379.4" y="841.8" font-size="11.5" font-weight="bold" text-anchor="end" fill="#3a3a3a" textLength="12.37" lengthAdjust="spacingAndGlyphs" >0.7</text>
<line x1="381.2" y1="809.6" x2="384.2" y2="809.6" stroke="#5e5e5e" stroke-width="1"/>
<line x1="670.6" y1="809.6" x2="667.6" y2="809.6" stroke="#5e5e5e" stroke-width="1"/>
<text x="379.4" y="813.7" font-size="11.5" font-weight="bold" text-anchor="end" fill="#3a3a3a" textLength="12.37" lengthAdjust="spacingAndGlyphs" >0.8</text>
<line x1="381.2" y1="781.6" x2="384.2" y2="781.6" stroke="#5e5e5e" stroke-width="1"/>
<line x1="670.6" y1="781.6" x2="667.6" y2="781.6" stroke="#5e5e5e" stroke-width="1"/>
<text x="379.4" y="785.7" font-size="11.5" font-weight="bold" text-anchor="end" fill="#3a3a3a" textLength="12.37" lengthAdjust="spacingAndGlyphs" >0.9</text>
<line x1="381.2" y1="753.5" x2="384.2" y2="753.5" stroke="#5e5e5e" stroke-width="1"/>
<line x1="670.6" y1="753.5" x2="667.6" y2="753.5" stroke="#5e5e5e" stroke-width="1"/>
<text x="379.4" y="757.6" font-size="11.5" font-weight="bold" text-anchor="end" fill="#3a3a3a" textLength="4.95" lengthAdjust="spacingAndGlyphs" >1</text>
<text x="525.9" y="1065" font-size="11.2" font-weight="bold" text-anchor="middle" fill="#3a3a3a" textLength="74.4" lengthAdjust="spacingAndGlyphs" >Followup (Days)</text>
<text transform="translate(362.2,893.8) rotate(-90)" x="0" y="0" font-size="11.2" font-weight="bold" text-anchor="middle" fill="#3a3a3a" textLength="88.5" lengthAdjust="spacingAndGlyphs">Overall survival</text>
<polyline points="381.2,753.5 384.9,754.3 385.2,754.3 385.2,757.2 385.8,757.2 385.8,760.2 386.1,760.2 386.2,760.2 386.2,762.9 386.5,762.9 386.5,765.6 386.8,765.6 386.8,768.4 387.1,768.4 387.1,771.1 387.4,771.1 387.4,773.8 387.7,773.8 387.7,776.5 387.8,776.5 388.0,776.5 388.0,778.8 388.3,778.8 388.3,781.2 388.7,781.2 388.7,783.5 389.1,783.5 389.1,785.9 389.4,785.9 389.4,788.2 389.6,788.2 389.9,788.2 389.9,791.1 390.5,791.1 390.5,794.0 391.0,794.0 391.0,797.0 391.6,797.0 391.6,799.9 391.9,799.9 392.1,799.9 392.1,802.6 392.5,802.6 392.5,805.2 392.9,805.2 392.9,807.9 393.1,807.9 394.3,810.4 394.9,810.4 394.9,812.8 396.0,812.8 396.0,815.1 396.6,815.1 397.5,824.5 397.9,824.5 397.9,827.0 398.6,827.0 398.6,829.4 399.2,829.4 399.2,831.9 399.9,831.9 399.9,834.3 400.6,834.3 400.6,836.8 401.0,836.8 401.6,836.8 401.6,839.7 402.8,839.7 402.8,842.6 403.9,842.6 403.9,845.5 404.5,845.5 405.1,845.5 405.1,848.1 406.2,848.1 406.2,850.8 407.4,850.8 407.4,853.4 408.0,853.4 409.3,853.4 409.3,856.5 412.0,856.5 412.0,859.6 413.3,859.6 413.6,859.6 413.6,862.2 414.3,862.2 414.3,864.9 414.9,864.9 414.9,867.5 415.6,867.5 415.6,870.1 415.9,870.1 416.8,884.1 417.1,884.1 417.1,886.5 417.6,886.5 417.6,889.0 418.2,889.0 418.2,891.4 418.5,891.4 419.4,891.4 419.4,894.6 420.3,894.6 421.1,894.6 421.1,897.5 422.0,897.5 422.4,897.5 422.4,899.8 423.3,899.8 423.3,902.2 424.2,902.2 424.2,904.5 424.6,904.5 425.7,904.5 425.7,907.1 427.9,907.1 427.9,909.8 429.0,909.8 429.9,926.4 448.3,926.4 449.2,929.9 456.2,930.8 456.7,934.3 466.7,934.3 467.2,942.7 492.1,942.7 493.0,947.4 499.1,948.3 500.0,953.6 504.3,954.5 505.2,959.7 506.3,959.7 506.3,962.6 508.5,962.6 508.5,965.5 509.6,965.5 510.5,972.2 540.8,972.2 540.8,982.3 548.5,982.3 548.5,995.4 651.4,995.4" fill="none" stroke="#3a7fc1" stroke-width="3.05" stroke-linejoin="miter" stroke-linecap="butt"/>
<polyline points="381.2,753.2 389.6,753.4 390.1,753.4 390.1,755.6 390.9,755.6 390.9,757.8 391.4,757.8 392.5,768.4 392.5,776.5 394.6,776.5 394.6,778.9 396.6,778.9 397.5,778.9 397.5,781.0 399.2,781.0 399.2,783.0 400.1,783.0 401.3,795.2 401.4,795.2 401.4,797.6 401.8,797.6 401.8,799.9 402.1,799.9 402.1,802.3 402.4,802.3 402.4,804.6 402.7,804.6 402.7,807.0 402.8,807.0 404.6,807.0 404.6,808.6 406.5,808.6 407.1,808.6 407.1,810.7 408.3,810.7 408.3,812.7 408.9,812.7 410.6,812.7 410.6,814.0 412.4,814.0 412.7,814.0 412.7,816.6 413.3,816.6 413.3,819.3 413.9,819.3 413.9,821.9 414.2,821.9 415.1,821.9 415.1,824.1 416.8,824.1 416.8,826.3 417.7,826.3 419.4,826.3 419.4,828.9 421.2,828.9 422.0,832.4 425.5,833.3 425.8,833.3 425.8,835.7 426.3,835.7 426.3,838.2 426.9,838.2 426.9,840.6 427.4,840.6 427.4,843.1 427.9,843.1 427.9,845.5 428.2,845.5 428.6,845.5 428.6,847.9 429.5,847.9 429.5,850.2 430.4,850.2 430.4,852.6 430.8,852.6 431.1,852.6 431.1,854.9 431.7,854.9 431.7,857.3 432.3,857.3 432.3,859.6 432.6,859.6 433.5,859.6 433.5,862.2 435.2,862.2 435.2,864.8 436.1,864.8 437.4,864.8 437.4,866.6 438.7,866.6 439.0,866.6 439.0,869.4 439.5,869.4 439.5,872.2 440.0,872.2 440.0,875.0 440.5,875.0 440.5,877.8 441.0,877.8 441.0,880.6 441.3,880.6 445.6,880.6 445.6,882.5 450.0,882.5 450.9,882.5 450.9,886.1 451.8,886.1 456.2,887.0 456.9,887.0 456.9,890.0 458.1,890.0 458.1,893.1 458.8,893.1 459.4,893.1 459.4,895.3 460.8,895.3 460.8,897.5 461.4,897.5 461.8,897.5 461.8,899.6 462.8,899.6 462.8,901.8 463.2,901.8 474.6,901.8 475.4,906.3 475.8,906.3 475.8,908.5 476.8,908.5 476.8,910.7 477.2,910.7 478.1,910.7 478.1,912.9 479.8,912.9 479.8,915.0 480.7,915.0 481.1,915.0 481.1,918.1 482.1,918.1 482.1,921.2 482.5,921.2 493.0,921.2 493.5,927.0 504.3,927.0 504.3,938.9 531.0,938.9 531.0,946.1 540.1,946.1 540.1,953.8 546.7,953.8 546.7,963.6 578.7,963.6 578.7,975.3 599.9,975.3 599.9,987.1 630.6,987.1 630.6,1003.1 643.7,1003.1 643.7,1018.4 652.5,1018.4" fill="none" stroke="#a51c36" stroke-width="3.05" stroke-linejoin="miter" stroke-linecap="butt"/>
<polyline points="381.2,753.5 382.2,753.5 382.2,761.4 389.0,761.4 389.2,770.1 394.9,770.1 395.1,779.5 397.8,780.0 398.4,790.5 398.7,790.5 398.7,793.1 399.3,793.1 399.3,795.8 399.8,795.8 399.8,798.4 400.4,798.4 400.4,801.0 400.7,801.0 401.0,820.7 404.5,820.7 405.4,831.5 405.6,831.5 405.6,834.1 406.1,834.1 406.1,836.8 406.5,836.8 406.5,839.4 407.0,839.4 407.0,842.0 407.2,842.0 411.5,842.0 412.4,873.6 415.9,873.6 415.9,884.7 424.0,884.7 424.0,897.2 446.5,897.2 446.5,914.5 451.4,914.5 451.4,931.2 459.7,931.2 460.2,948.3 462.3,948.7 462.3,965.5 492.1,965.5 492.1,1034.0" fill="none" stroke="#7cbd2a" stroke-width="3.05" stroke-linejoin="miter" stroke-linecap="butt"/>
<rect x="573.4" y="762.2" width="90.0" height="42.09999999999991" fill="#fff" stroke="#555" stroke-width="1"/>
<line x1="575.9" y1="770.3" x2="602.7" y2="770.3" stroke="#3a7fc1" stroke-width="2.9"/>
<text x="605.1" y="774.0" font-size="10" font-weight="bold" text-anchor="start" fill="#1a1a1a" textLength="35.1" lengthAdjust="spacingAndGlyphs" >Low TMB</text>
<line x1="575.9" y1="783.4" x2="602.7" y2="783.4" stroke="#a51c36" stroke-width="2.9"/>
<text x="605.1" y="787.1" font-size="10" font-weight="bold" text-anchor="start" fill="#1a1a1a" textLength="37" lengthAdjust="spacingAndGlyphs" >High TMB</text>
<line x1="575.9" y1="796.4" x2="602.7" y2="796.4" stroke="#7cbd2a" stroke-width="2.9"/>
<text x="605.1" y="800.1" font-size="10" font-weight="bold" text-anchor="start" fill="#1a1a1a" textLength="56.3" lengthAdjust="spacingAndGlyphs" >Very High TMB</text>
<text x="584.3" y="829.4" font-size="20.6" fill="#1a1a1a" textLength="70.1" lengthAdjust="spacingAndGlyphs">P = 0.002</text>
<text x="351" y="752.8" font-size="26.5" fill="#1a1a1a">e</text>
<line x1="112.4" y1="660.0" x2="603.6" y2="660.0" stroke="#555555" stroke-width="1.2"/>
<line x1="112.4" y1="660.0" x2="112.4" y2="353.7" stroke="#555555" stroke-width="1.2"/>
<line x1="112.4" y1="660.0" x2="117.4" y2="660.0" stroke="#555555" stroke-width="1.1"/>
<text x="108.4" y="664.5" font-size="12.8" font-weight="bold" text-anchor="end" fill="#353535" textLength="7.8" lengthAdjust="spacingAndGlyphs">0</text>
<line x1="112.4" y1="621.7" x2="117.4" y2="621.7" stroke="#555555" stroke-width="1.1"/>
<text x="108.4" y="626.2" font-size="12.8" font-weight="bold" text-anchor="end" fill="#353535" textLength="20" lengthAdjust="spacingAndGlyphs">0.5</text>
<line x1="112.4" y1="583.4" x2="117.4" y2="583.4" stroke="#555555" stroke-width="1.1"/>
<text x="108.4" y="587.9" font-size="12.8" font-weight="bold" text-anchor="end" fill="#353535" textLength="7.8" lengthAdjust="spacingAndGlyphs">1</text>
<line x1="112.4" y1="545.1" x2="117.4" y2="545.1" stroke="#555555" stroke-width="1.1"/>
<text x="108.4" y="549.6" font-size="12.8" font-weight="bold" text-anchor="end" fill="#353535" textLength="20" lengthAdjust="spacingAndGlyphs">1.5</text>
<line x1="112.4" y1="506.9" x2="117.4" y2="506.9" stroke="#555555" stroke-width="1.1"/>
<text x="108.4" y="511.4" font-size="12.8" font-weight="bold" text-anchor="end" fill="#353535" textLength="7.8" lengthAdjust="spacingAndGlyphs">2</text>
<line x1="112.4" y1="468.6" x2="117.4" y2="468.6" stroke="#555555" stroke-width="1.1"/>
<text x="108.4" y="473.1" font-size="12.8" font-weight="bold" text-anchor="end" fill="#353535" textLength="20" lengthAdjust="spacingAndGlyphs">2.5</text>
<line x1="112.4" y1="430.3" x2="117.4" y2="430.3" stroke="#555555" stroke-width="1.1"/>
<text x="108.4" y="434.8" font-size="12.8" font-weight="bold" text-anchor="end" fill="#353535" textLength="7.8" lengthAdjust="spacingAndGlyphs">3</text>
<line x1="112.4" y1="392.0" x2="117.4" y2="392.0" stroke="#555555" stroke-width="1.1"/>
<text x="108.4" y="396.5" font-size="12.8" font-weight="bold" text-anchor="end" fill="#353535" textLength="20" lengthAdjust="spacingAndGlyphs">3.5</text>
<line x1="112.4" y1="353.7" x2="117.4" y2="353.7" stroke="#555555" stroke-width="1.1"/>
<text x="108.4" y="358.2" font-size="12.8" font-weight="bold" text-anchor="end" fill="#353535" textLength="7.8" lengthAdjust="spacingAndGlyphs">4</text>
<line x1="112.4" y1="660.0" x2="112.4" y2="655.0" stroke="#555555" stroke-width="1.1"/>
<text x="113.3" y="677.8" font-size="12.8" font-weight="bold" text-anchor="middle" fill="#353535" textLength="20.2" lengthAdjust="spacingAndGlyphs">0.3</text>
<line x1="167.0" y1="660.0" x2="167.0" y2="655.0" stroke="#555555" stroke-width="1.1"/>
<text x="167.9" y="677.8" font-size="12.8" font-weight="bold" text-anchor="middle" fill="#353535" textLength="20.2" lengthAdjust="spacingAndGlyphs">0.4</text>
<line x1="221.6" y1="660.0" x2="221.6" y2="655.0" stroke="#555555" stroke-width="1.1"/>
<text x="222.5" y="677.8" font-size="12.8" font-weight="bold" text-anchor="middle" fill="#353535" textLength="20.2" lengthAdjust="spacingAndGlyphs">0.5</text>
<line x1="276.1" y1="660.0" x2="276.1" y2="655.0" stroke="#555555" stroke-width="1.1"/>
<text x="277.0" y="677.8" font-size="12.8" font-weight="bold" text-anchor="middle" fill="#353535" textLength="20.2" lengthAdjust="spacingAndGlyphs">0.6</text>
<line x1="330.7" y1="660.0" x2="330.7" y2="655.0" stroke="#555555" stroke-width="1.1"/>
<text x="331.6" y="677.8" font-size="12.8" font-weight="bold" text-anchor="middle" fill="#353535" textLength="20.2" lengthAdjust="spacingAndGlyphs">0.7</text>
<line x1="385.3" y1="660.0" x2="385.3" y2="655.0" stroke="#555555" stroke-width="1.1"/>
<text x="386.2" y="677.8" font-size="12.8" font-weight="bold" text-anchor="middle" fill="#353535" textLength="20.2" lengthAdjust="spacingAndGlyphs">0.8</text>
<line x1="439.9" y1="660.0" x2="439.9" y2="655.0" stroke="#555555" stroke-width="1.1"/>
<text x="440.8" y="677.8" font-size="12.8" font-weight="bold" text-anchor="middle" fill="#353535" textLength="20.2" lengthAdjust="spacingAndGlyphs">0.9</text>
<line x1="494.4" y1="660.0" x2="494.4" y2="655.0" stroke="#555555" stroke-width="1.1"/>
<text x="495.3" y="677.8" font-size="12.8" font-weight="bold" text-anchor="middle" fill="#353535" textLength="7.8" lengthAdjust="spacingAndGlyphs">1</text>
<line x1="549.0" y1="660.0" x2="549.0" y2="655.0" stroke="#555555" stroke-width="1.1"/>
<text x="549.9" y="677.8" font-size="12.8" font-weight="bold" text-anchor="middle" fill="#353535" textLength="20.2" lengthAdjust="spacingAndGlyphs">1.1</text>
<line x1="603.6" y1="660.0" x2="603.6" y2="655.0" stroke="#555555" stroke-width="1.1"/>
<text x="604.5" y="677.8" font-size="12.8" font-weight="bold" text-anchor="middle" fill="#353535" textLength="20.2" lengthAdjust="spacingAndGlyphs">1.2</text>
<text x="358.4" y="696" font-size="13.2" font-weight="bold" text-anchor="middle" fill="#353535" textLength="100" lengthAdjust="spacingAndGlyphs">Hazard Ratio</text>
<text transform="translate(79.8,506.5) rotate(-90)" font-size="15" font-weight="bold" text-anchor="middle" fill="#353535" textLength="95.5" lengthAdjust="spacingAndGlyphs">-log10(p-value)</text>
<line x1="494.1" y1="354.3" x2="494.1" y2="660" stroke="#9a9a9a" stroke-width="1.5" stroke-dasharray="5.5 3.7"/>
<rect x="507" y="368.5" width="200" height="32.7" fill="#fff" stroke="#777" stroke-width="1.2"/>
<ellipse cx="530.1" cy="377.2" rx="4.5" ry="3.6" fill="#3b7ec3"/>
<ellipse cx="530.1" cy="391.4" rx="4.5" ry="3.6" fill="#e0392b"/>
<text x="560.1" y="379.8" font-size="11.3" font-weight="bold" fill="#1a1a1a" textLength="117.7" lengthAdjust="spacingAndGlyphs">excluding top 10%</text>
<text x="560.1" y="396.3" font-size="11.3" font-weight="bold" fill="#1a1a1a" textLength="47" lengthAdjust="spacingAndGlyphs">all data</text>
<ellipse cx="123.1" cy="384.6" rx="4.5" ry="3.7" fill="#3b7ec3"/>
<text x="129" y="389" font-size="12" font-weight="bold" fill="#1a1a1a" textLength="64.2" lengthAdjust="spacingAndGlyphs">log(TMB)</text>
<ellipse cx="273.3" cy="548" rx="4.5" ry="3.7" fill="#e0392b"/>
<text x="279.4" y="552.2" font-size="12" font-weight="bold" fill="#1a1a1a" textLength="64.3" lengthAdjust="spacingAndGlyphs">log(TMB)</text>
<ellipse cx="577.2" cy="593.3" rx="4.5" ry="3.7" fill="#3b7ec3"/>
<text x="582.7" y="596.8" font-size="12" font-weight="bold" fill="#1a1a1a" textLength="40.1" lengthAdjust="spacingAndGlyphs">Stage</text>
<ellipse cx="553.5" cy="611" rx="4.5" ry="3.7" fill="#e0392b"/>
<text x="559.7" y="614.4" font-size="12" font-weight="bold" fill="#1a1a1a" textLength="39.4" lengthAdjust="spacingAndGlyphs">Stage</text>
<ellipse cx="496.6" cy="632.1" rx="4.5" ry="3.7" fill="#3b7ec3"/>
<text x="502.5" y="636.2" font-size="12" font-weight="bold" fill="#1a1a1a" textLength="27.6" lengthAdjust="spacingAndGlyphs">Age</text>
<ellipse cx="496.6" cy="629.9" rx="4.5" ry="3.7" fill="#e0392b"/>
<text x="502.5" y="634.3" font-size="12" font-weight="bold" fill="#1a1a1a" textLength="27.6" lengthAdjust="spacingAndGlyphs">Age</text>
<text x="61" y="347" font-size="24.5" fill="#1a1a1a">c</text>
</svg></body></html>
